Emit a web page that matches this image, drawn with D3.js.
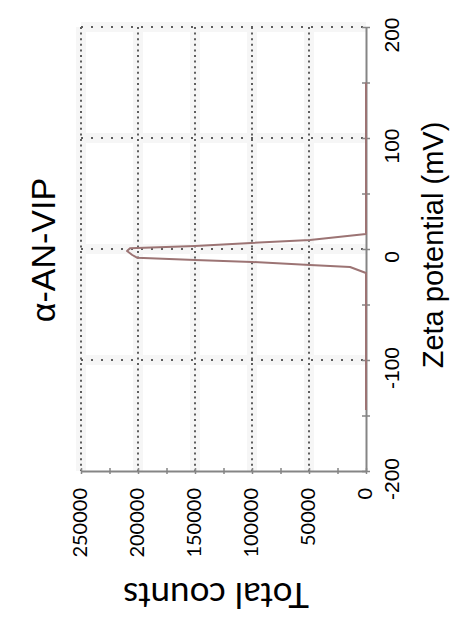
<!DOCTYPE html>
<html>
<head>
<meta charset="utf-8">
<script src="https://cdn.jsdelivr.net/npm/d3@7"></script>
<style>
  body { margin: 0; background: #fff; }
  svg { display: block; }
  .zeta-label { font-family: "Liberation Sans", Arial, sans-serif; font-size: 21px; fill: #000; }
  .count-label { font-family: Lato, "Liberation Sans", sans-serif; font-size: 20px; fill: #000; }
  .axis-title { font-family: "Liberation Sans", Arial, sans-serif; font-size: 29px; fill: #000; }
  .count-title { font-family: Lato, "Liberation Sans", sans-serif; font-size: 35px; fill: #000; }
  .chart-title { font-family: "Liberation Sans", Arial, sans-serif; font-size: 34px; fill: #000; }
</style>
</head>
<body>
<div id="chart"></div>
<script>
// Data: zeta potential (mV) vs total counts
const zetaValues = [-145, -21.6, -16.2, -14.4, -11.7, -9.9, -7.8, -5.4, -1.8, 0.6, 0.9, 2.7, 5.4, 8.1, 13.5, 150];
const countValues = [0, 0, 14000, 49100, 100000, 150000, 200900, 205000, 209600, 207000, 200900, 150000, 100900, 49100, 0, 0];

// Tick values
const zetaTicks = [-200, -100, 0, 100, 200];
const zetaMinorTicks = [-200, -150, -100, -50, 0, 50, 100, 150, 200];
const countTicks = [0, 50000, 100000, 150000, 200000, 250000];
const countMinorTicks = [0, 25000, 50000, 75000, 100000, 125000, 150000, 175000, 200000, 225000, 250000];

const titleText = "α-AN-VIP";
const zetaTitle = "Zeta potential (mV)";
const countTitle = "Total counts";

// Setup: the chart is shown turned a quarter turn, counts run right-to-left, zeta bottom-to-top
const svgWidth = 451, svgHeight = 628;
const plot = { left: 81, right: 366, top: 27, bottom: 471 };

const svg = d3.select("#chart")
  .append("svg")
  .attr("width", svgWidth)
  .attr("height", svgHeight)
  .style("background-color", "white");

// Scales
const xScale = d3.scaleLinear()   // counts -> horizontal
  .domain([0, 250000])
  .range([plot.right, plot.left]);

const yScale = d3.scaleLinear()   // zeta -> vertical
  .domain([-200, 200])
  .range([plot.bottom, plot.top]);

// Faint scan haze around the grid
const haze = svg.append("g").attr("stroke", "#f6f6f6").attr("stroke-width", 10);
haze.selectAll("line.vh")
  .data(countTicks.filter(d => d > 0))
  .join("line")
  .attr("x1", d => xScale(d)).attr("x2", d => xScale(d))
  .attr("y1", plot.top).attr("y2", plot.bottom);
haze.selectAll("line.hh")
  .data(zetaTicks.filter(d => d > -200))
  .join("line")
  .attr("x1", plot.left).attr("x2", plot.right)
  .attr("y1", d => yScale(d)).attr("y2", d => yScale(d));

// Dotted grid lines
svg.append("g")
  .selectAll("line")
  .data(countTicks.filter(d => d > 0))
  .join("line")
  .attr("x1", d => xScale(d)).attr("x2", d => xScale(d))
  .attr("y1", plot.top).attr("y2", plot.bottom)
  .attr("stroke", "#5e5e5e")
  .attr("stroke-width", 2)
  .attr("stroke-dasharray", "2,3.6");

svg.append("g")
  .selectAll("line")
  .data(zetaTicks.filter(d => d > -200))
  .join("line")
  .attr("x1", plot.left).attr("x2", plot.right)
  .attr("y1", d => yScale(d)).attr("y2", d => yScale(d))
  .attr("stroke", "#5e5e5e")
  .attr("stroke-width", 2)
  .attr("stroke-dasharray", "2,8");

// Axes (solid lines with ticks both sides)
const zetaAxis = svg.append("g")
  .attr("transform", `translate(${plot.right},0)`)
  .call(d3.axisRight(yScale).tickValues(zetaMinorTicks).tickSizeInner(4).tickSizeOuter(0).tickFormat(""));

const countAxis = svg.append("g")
  .attr("transform", `translate(0,${plot.bottom})`)
  .call(d3.axisBottom(xScale).tickValues(countMinorTicks).tickSizeInner(3).tickSizeOuter(0).tickFormat(""));

[zetaAxis, countAxis].forEach(ax => {
  ax.select(".domain").attr("stroke", "#858585").attr("stroke-width", 2);
  ax.selectAll(".tick line").attr("stroke", "#858585").attr("stroke-width", 1.5);
});
zetaAxis.selectAll(".tick line").attr("x1", -4);
countAxis.selectAll(".tick line").attr("y1", -3);

// Data line
const points = zetaValues.map((z, i) => ({ zeta: z, count: countValues[i] }));
const line = d3.line()
  .x(d => xScale(d.count))
  .y(d => yScale(d.zeta));

svg.append("path")
  .datum(points)
  .attr("fill", "none")
  .attr("stroke", "#9c7474")
  .attr("stroke-width", 2)
  .attr("stroke-linejoin", "round")
  .attr("d", line);

// Zeta tick labels
svg.append("g")
  .selectAll("text")
  .data(zetaTicks)
  .join("text")
  .attr("class", "zeta-label")
  .attr("text-anchor", "middle")
  .attr("transform", d => `translate(399,${yScale(d) + 8}) rotate(-90)`)
  .text(d => d);

// Count tick labels
svg.append("g")
  .selectAll("text")
  .data(countTicks)
  .join("text")
  .attr("class", "count-label")
  .attr("text-anchor", "end")
  .attr("transform", d => `translate(${xScale(d) + 6},488) rotate(-90)`)
  .text(d => d);

// Axis titles
svg.append("text")
  .attr("class", "axis-title")
  .attr("text-anchor", "middle")
  .attr("transform", `translate(443,245) rotate(-90)`)
  .text(zetaTitle);

svg.append("text")
  .attr("class", "count-title")
  .attr("text-anchor", "middle")
  .attr("transform", `translate(216,583) rotate(180)`)
  .text(countTitle);

// Title
svg.append("text")
  .attr("class", "chart-title")
  .attr("text-anchor", "middle")
  .attr("transform", `translate(55,250) rotate(-90)`)
  .text(titleText);
</script>
</body>
</html>
